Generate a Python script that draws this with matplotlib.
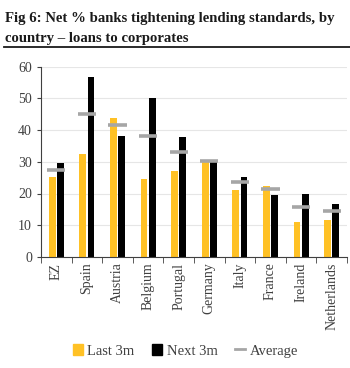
import matplotlib
matplotlib.use("Agg")
import matplotlib.pyplot as plt
import numpy as np
from matplotlib.lines import Line2D
from matplotlib.patches import Patch

paises = ["EZ", "Spain", "Austria", "Belgium", "Portugal", "Germany",
          "Italy", "France", "Ireland", "Netherlands"]
ultimos_3m = [25.1, 32.3, 43.9, 24.7, 27.0, 30.0, 21.1, 22.5, 11.1, 11.5]
proximos_3m = [29.5, 56.6, 38.1, 50.1, 37.9, 30.0, 25.1, 19.4, 20.0, 16.7]
promedio = [27.5, 45.0, 41.6, 38.0, 33.0, 30.3, 23.6, 21.4, 15.9, 14.5]

plt.rcParams['font.family'] = ['Liberation Serif', 'DejaVu Serif']

fig = plt.figure(figsize=(3.5, 3.68), dpi=100)
ax = fig.add_axes([41/350, 1 - 257/368, 306/350, 190.5/368])

x = np.arange(len(paises))
ancho = 0.22
ax.bar(x - 0.135, ultimos_3m, ancho, color="#FFC125", zorder=2)
ax.bar(x + 0.135, proximos_3m, ancho, color="black", zorder=2)
ax.hlines(promedio, x - 0.3, x + 0.3, color="#A6A6A6", lw=2.6, zorder=3)

ax.set_xlim(-0.5, len(paises) - 0.5)
ax.set_ylim(0, 60)
ax.set_yticks(range(0, 61, 10))
ax.yaxis.grid(True, color="#E6E6E6", lw=0.8, zorder=0)
ax.set_axisbelow(True)

ax.set_xticks(x)
ax.set_xticklabels(paises, rotation=90, fontsize=10, color="#404040")
ax.tick_params(axis="x", length=0, pad=4)
ax.set_xticks(np.arange(-0.5, len(paises), 1), minor=True)
ax.tick_params(axis="x", which="minor", length=4, direction="out", color="#404040")
ax.tick_params(axis="y", labelsize=10, labelcolor="#404040", length=3, color="#404040")

for lado in ["top", "right"]:
    ax.spines[lado].set_visible(False)
ax.spines["left"].set_color("#404040")
ax.spines["bottom"].set_color("#404040")

fig.text(0.015, 1 - 22/368, "Fig 6: Net % banks tightening lending standards, by",
         fontsize=10.6, fontweight="bold", color="#1a1a1a")
fig.text(0.015, 1 - 42/368, "country \u2013 loans to corporates",
         fontsize=10.6, fontweight="bold", color="#1a1a1a")
fig.add_artist(Line2D([0.01, 1.0], [1 - 47/368, 1 - 47/368], color="#1a1a1a", lw=1.3))

handles = [Patch(color="#FFC125"), Patch(color="black"),
           Line2D([], [], color="#A6A6A6", lw=2)]
fig.legend(handles, ["Last 3m", "Next 3m", "Average"], loc="center",
           bbox_to_anchor=(0.53, 1 - 351/368), ncol=3, frameon=False,
           fontsize=10.5, handlelength=0.7, handleheight=0.7, handletextpad=0.3,
           columnspacing=1.2, labelcolor="#404040")

fig.savefig("out.png", dpi=100)
